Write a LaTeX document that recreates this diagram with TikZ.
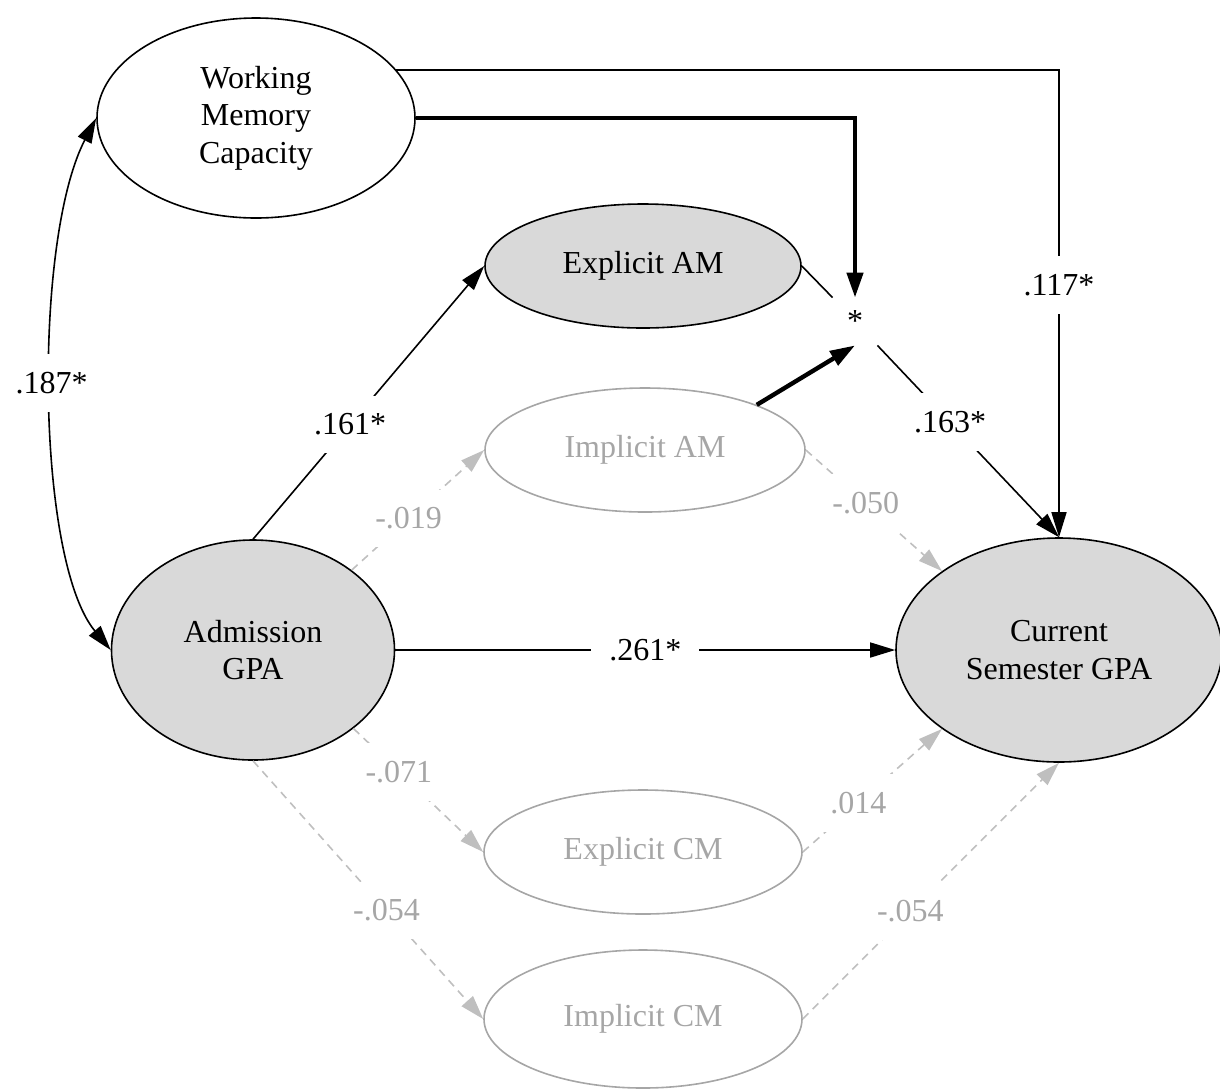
\documentclass[tikz,border=0pt]{standalone}
\usepackage{fontspec}
\setmainfont{Liberation Serif}
\usetikzlibrary{shapes.geometric,arrows.meta}
\definecolor{shade}{HTML}{D9D9D9}
\definecolor{faintgray}{HTML}{A6A6A6}
\definecolor{dashgray}{HTML}{BFBFBF}
\begin{document}
\begin{tikzpicture}[x=0.5pt,y=-0.5pt,font=\fontsize{16}{18.75}\selectfont,
    latent/.style={ellipse,draw,line width=0.8pt,inner sep=0pt,align=center},
    filled/.style={latent,fill=shade},
    faint/.style={latent,draw=faintgray,text=faintgray},
    effect/.style={line width=0.8pt,-{Triangle[length=12.5pt,width=7.5pt]}},
    strong/.style={line width=2.2pt,-{Triangle[length=12.5pt,width=8pt]}},
    weak/.style={line width=0.8pt,draw=dashgray,dash pattern=on 4pt off 3pt,-{Triangle[length=12pt,width=7.5pt,fill=dashgray]}},
    coef/.style={fill=white,inner sep=9pt},
    faintcoef/.style={coef,text=faintgray}]
    \useasboundingbox (0,0) rectangle (1220,1089);
    \node[latent,minimum width=159pt,minimum height=100pt] (wmc) at (256,118) {Working\\Memory\\Capacity};
    \node[filled,minimum width=158pt,minimum height=62pt] (eam) at (643,266) {Explicit AM};
    \node[faint,minimum width=160pt,minimum height=62pt] (iam) at (645,450) {Implicit AM};
    \node[filled,minimum width=141.5pt,minimum height=110pt] (adm) at (253,650) {Admission\\GPA};
    \node[filled,minimum width=163pt,minimum height=112pt] (cur) at (1059,650) {Current\\Semester GPA};
    \node[faint,minimum width=159pt,minimum height=62pt] (ecm) at (643,852) {Explicit CM};
    \node[faint,minimum width=159pt,minimum height=69pt] (icm) at (643,1019) {Implicit CM};
    \node[inner sep=0pt,minimum width=22pt,minimum height=23.5pt] (inter) at (855,321.5) {*};

    \draw[effect,{Triangle[length=12.5pt,width=7.5pt]}-{Triangle[length=12.5pt,width=7.5pt]}] (wmc.west) .. controls (33,240) and (36,560) .. node[coef,pos=.48] {.187*} (adm.west);
    \draw[effect] (wmc.19) -| node[coef,pos=.73] {.117*} (cur.north);
    \draw[strong] (wmc.east) -| (inter.north);
    \draw[line width=0.8pt] (eam.east) -- (inter.north west);
    \draw[strong] (iam.22) -- (inter.south);
    \draw[effect] (inter.south east) -- node[coef,pos=.4] {.163*} (cur.north);
    \draw[effect] (adm.north) -- node[coef,pos=.42] {.161*} (eam.west);
    \draw[effect] (adm.east) -- node[coef] {.261*} (cur.west);
    \draw[weak] (adm.39) -- node[faintcoef,pos=.43] {-.019} (iam.west);
    \draw[weak] (iam.east) -- node[faintcoef,pos=.44] {-.050} (cur.146);
    \draw[weak] (adm.-38) -- node[faintcoef,pos=.35] {-.071} (ecm.west);
    \draw[weak] (adm.south) -- node[faintcoef,pos=.58] {-.054} (icm.west);
    \draw[weak] (ecm.east) -- node[faintcoef,pos=.4] {.014} (cur.-146);
    \draw[weak] (icm.east) -- node[faintcoef,pos=.42] {-.054} (cur.south);
\end{tikzpicture}
\end{document}
